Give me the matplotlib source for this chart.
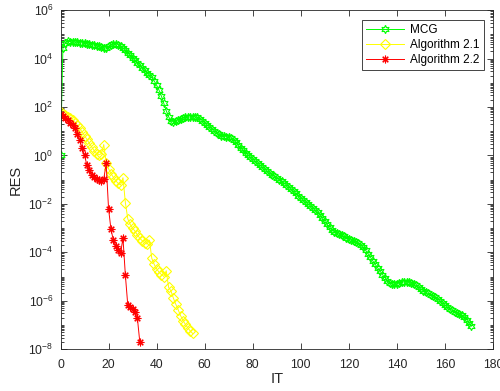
import numpy as np
import matplotlib
matplotlib.use("Agg")
import matplotlib.pyplot as plt
from matplotlib.ticker import FixedLocator, LogFormatterSciNotation, NullFormatter

plt.rcParams['font.family'] = ['Liberation Sans', 'DejaVu Sans']
plt.rcParams['mathtext.default'] = 'regular'

# log10(RES) per iteration
mcg_log10 = [
    0.00, 4.45, 4.65, 4.72, 4.70, 4.68, 4.68, 4.67, 4.66, 4.65,
    4.63, 4.61, 4.60, 4.58, 4.56, 4.53, 4.50, 4.46, 4.44, 4.45,
    4.50, 4.56, 4.60, 4.61, 4.58, 4.52, 4.44, 4.35, 4.25, 4.14,
    4.03, 3.93, 3.82, 3.72, 3.62, 3.52, 3.42, 3.32, 3.22, 3.08,
    2.90, 2.70, 2.45, 2.15, 1.85, 1.60, 1.42, 1.38, 1.42, 1.48,
    1.52, 1.55, 1.57, 1.58, 1.59, 1.60, 1.59, 1.57, 1.52, 1.44,
    1.35, 1.26, 1.18, 1.10, 1.02, 0.94, 0.87, 0.82, 0.79, 0.77,
    0.75, 0.72, 0.65, 0.55, 0.43, 0.31, 0.22, 0.12, 0.03, -0.07,
    -0.15, -0.24, -0.32, -0.40, -0.48, -0.56, -0.65, -0.72, -0.80, -0.86,
    -0.93, -1.00, -1.07, -1.14, -1.21, -1.30, -1.39, -1.48, -1.57, -1.66,
    -1.75, -1.84, -1.92, -2.00, -2.08, -2.17, -2.26, -2.34, -2.45, -2.58,
    -2.72, -2.85, -2.96, -3.06, -3.15, -3.21, -3.25, -3.29, -3.33, -3.39,
    -3.45, -3.50, -3.54, -3.58, -3.63, -3.70, -3.80, -3.92, -4.05, -4.20,
    -4.36, -4.50, -4.64, -4.78, -4.92, -5.05, -5.17, -5.27, -5.31, -5.32,
    -5.30, -5.27, -5.24, -5.22, -5.21, -5.22, -5.25, -5.30, -5.37, -5.45,
    -5.52, -5.58, -5.64, -5.70, -5.75, -5.80, -5.86, -5.93, -6.01, -6.10,
    -6.18, -6.26, -6.33, -6.40, -6.46, -6.51, -6.56, -6.60, -6.66, -6.78,
    -6.92, -7.05,
]

alg21_log10 = [
    1.78, 1.72, 1.66, 1.60, 1.53, 1.46, 1.36, 1.25, 1.12, 0.97,
    0.82, 0.66, 0.50, 0.35, 0.20, 0.08, 0.02, 0.08, 0.45, -0.30,
    -0.55, -0.75, -0.90, -1.05, -1.15, -1.22, -0.92, -1.95, -2.62, -2.85,
    -3.00, -3.13, -3.28, -3.42, -3.52, -3.60, -3.66, -3.50, -4.25, -4.50,
    -4.68, -4.82, -4.92, -5.00, -4.76, -5.45, -5.60, -5.90, -6.15, -6.38,
    -6.62, -6.82, -6.98, -7.12, -7.25, -7.35,
]

alg22_log10 = [
    1.70, 1.62, 1.55, 1.46, 1.36, 1.25, 1.12, 0.90, 0.62, 0.32,
    0.00, -0.40, -0.62, -0.80, -0.90, -0.98, -1.03, -1.06, -0.98, -0.33,
    -2.20, -3.05, -3.50, -3.72, -3.90, -4.03, -3.42, -4.95, -6.18, -6.26,
    -6.33, -6.47, -6.72, -7.70,
]

series_names = ["MCG", "Algorithm 2.1", "Algorithm 2.2"]
x_ticks = [0, 20, 40, 60, 80, 100, 120, 140, 160, 180]
y_major_exps = [-8, -6, -4, -2, 0, 2, 4, 6]

fig = plt.figure(figsize=(5.0, 3.91), dpi=100)
ax = fig.add_axes([0.121, 0.107, 0.865, 0.867])

dark = (0.15, 0.15, 0.15)
series = [mcg_log10, alg21_log10, alg22_log10]
colors = [(0, 1, 0), (1, 1, 0), (1, 0, 0)]
markers = [(6, 1, 0), 'D', (8, 2, 0)]
msizes = [6.0, 4.6, 5.5]
for vals, name, c, m, ms in zip(series, series_names, colors, markers, msizes):
    it = np.arange(len(vals))
    y = 10.0 ** np.array(vals)
    ax.semilogy(it, y, color=c, marker=m, markersize=ms, linewidth=0.7,
                markerfacecolor='none', markeredgecolor=c, markeredgewidth=0.8,
                label=name)

ax.set_xlim(0, 180)
ax.set_ylim(1e-8, 1e6)
ax.xaxis.set_major_locator(FixedLocator(x_ticks))
ax.yaxis.set_major_locator(FixedLocator([10.0 ** e for e in y_major_exps]))
minor = []
for d in range(-8, 6):
    for k in range(1, 10):
        v = k * 10.0 ** d
        if k == 1 and d % 2 == 0:
            continue
        minor.append(v)
ax.yaxis.set_minor_locator(FixedLocator(minor))
ax.yaxis.set_minor_formatter(NullFormatter())
ax.yaxis.set_major_formatter(LogFormatterSciNotation())

ax.tick_params(which='both', direction='in', top=True, right=True,
               colors=dark, labelsize=8.8, width=0.6)
ax.tick_params(which='major', length=4)
ax.tick_params(which='minor', length=2)
ax.tick_params(axis='x', which='major', pad=7)
ax.tick_params(axis='y', which='major', pad=5)
for s in ax.spines.values():
    s.set_color(dark)
    s.set_linewidth(0.6)

ax.set_xlabel("IT", fontsize=10.5, color=dark, labelpad=1)
ax.set_ylabel("RES", fontsize=10.5, color=dark, labelpad=4)

leg = ax.legend(loc='upper right', fontsize=8.5, handlelength=3.2,
                borderaxespad=0.8, fancybox=False, framealpha=1,
                edgecolor=dark, borderpad=0.35, labelspacing=0.25,
                handletextpad=0.5)
leg.get_frame().set_linewidth(0.6)

fig.savefig("out.png", dpi=100)
